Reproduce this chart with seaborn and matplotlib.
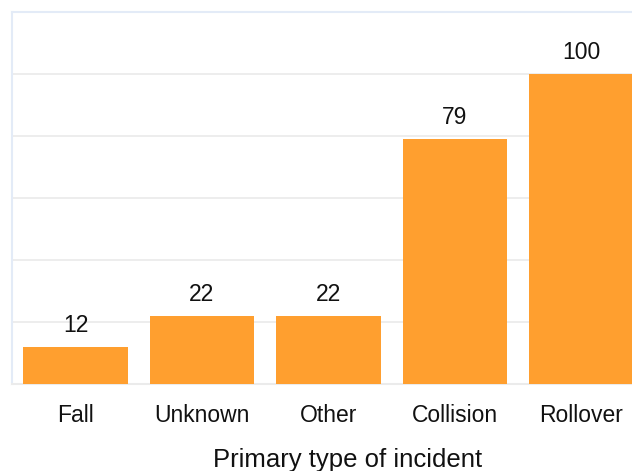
import matplotlib
matplotlib.use("Agg")
import matplotlib.pyplot as plt
import seaborn as sns
import pandas as pd

categories = ["Fall", "Unknown", "Other", "Collision", "Rollover"]
counts = [12, 22, 22, 79, 100]
x_title = "Primary type of incident"

sns.set_theme(style="white")
plt.rcParams["font.family"] = ["Liberation Sans", "DejaVu Sans"]

df = pd.DataFrame({"type": categories, "count": counts})

W, H = 632, 471
fig = plt.figure(figsize=(W / 100, H / 100), dpi=100)
ax = fig.add_axes([12.25 / W, 1 - 384 / H, 632.5 / W, 372 / H])

sns.barplot(data=df, x="type", y="count", color="#ff9f2f", saturation=1,
            width=0.83, ax=ax, zorder=3)
for p in ax.patches:
    p.set_edgecolor("none")

ax.set_xlim(-0.5, 4.5)
ax.set_ylim(0, 120)
ax.set_yticks([20, 40, 60, 80, 100])
ax.yaxis.grid(True, color="#ececec", linewidth=1.3, zorder=0)
ax.set_yticklabels([])
ax.tick_params(axis="y", length=0)
ax.tick_params(axis="x", length=0, pad=27, labelsize=16.5, labelcolor="#111111")
for lab in ax.get_xticklabels():
    lab.set_verticalalignment("baseline")

for spine in ["left", "top"]:
    ax.spines[spine].set_color("#e3ebf7")
    ax.spines[spine].set_linewidth(1.5)
ax.spines["bottom"].set_color("#ebebeb")
ax.spines["bottom"].set_linewidth(1.5)
ax.spines["right"].set_visible(False)

for i, v in enumerate(counts):
    ax.annotate(str(v), (i, v), xytext=(0, 11), textcoords="offset points",
                ha="center", va="baseline", fontsize=16.5, color="#111111")

ax.set_ylabel("")
ax.set_xlabel("")
fig.text(348 / W, 3.5 / H, x_title, ha="center", va="baseline",
         fontsize=18.5, color="#111111")

fig.savefig("out.png", dpi=100)
